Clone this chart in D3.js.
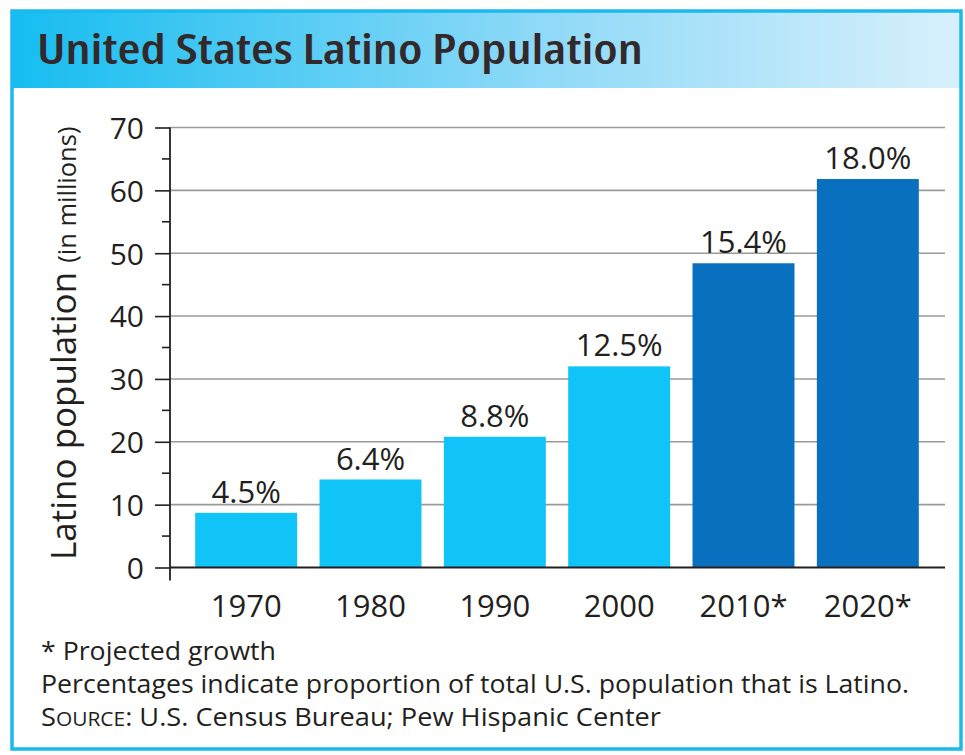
<!DOCTYPE html>
<html>
<head>
<meta charset="utf-8">
<script src="https://cdn.jsdelivr.net/npm/d3@7"></script>
<style>
  body { margin: 0; background: #fff; }
  svg text { font-family: "Open Sans", sans-serif; fill: #231f20; }
</style>
</head>
<body>
<div id="chart"></div>
<script>
// Data.
const years = ["1970", "1980", "1990", "2000", "2010*", "2020*"];
const population = [8.7, 14.0, 20.8, 32.0, 48.4, 61.8];
const shares = ["4.5%", "6.4%", "8.8%", "12.5%", "15.4%", "18.0%"];
const projected = [false, false, false, false, true, true];
const yTicks = [0, 10, 20, 30, 40, 50, 60, 70];
const notes = [
  "* Projected growth",
  "Percentages indicate proportion of total U.S. population that is Latino."
];
const noteWidths = [235, 868];

const width = 965, height = 755;
const svg = d3.select("#chart").append("svg")
  .attr("width", width)
  .attr("height", height);

// Header gradient.
const grad = svg.append("defs").append("linearGradient")
  .attr("id", "head").attr("x1", "0%").attr("x2", "100%");
grad.append("stop").attr("offset", "0%").attr("stop-color", "#16bdf0");
grad.append("stop").attr("offset", "55%").attr("stop-color", "#8dd9f7");
grad.append("stop").attr("offset", "100%").attr("stop-color", "#d8f0fc");

svg.append("rect")
  .attr("x", 12).attr("y", 11).attr("width", 949).attr("height", 77)
  .attr("fill", "url(#head)");

// Outer frame.
svg.append("rect")
  .attr("x", 12).attr("y", 11).attr("width", 949).attr("height", 738)
  .attr("fill", "none").attr("stroke", "#1ab9ee").attr("stroke-width", 3.5);

svg.append("text")
  .attr("x", 37).attr("y", 64)
  .attr("font-size", 42)
  .attr("font-weight", 600)
  .style("font-stretch", "condensed")
  .attr("textLength", 606).attr("lengthAdjust", "spacingAndGlyphs")
  .style("fill", "#33282a")
  .text("United States Latino Population");

// Scales.
const x = d3.scaleBand()
  .domain(years)
  .range([184, 930])
  .paddingInner(0.18)
  .paddingOuter(0.09);

const y = d3.scaleLinear()
  .domain([0, 70])
  .range([567.5, 127.5]);

const axisX = 170, gridEnd = 945;

// Grid lines.
svg.append("g")
  .selectAll("line")
  .data(yTicks.filter(d => d > 0))
  .join("line")
  .attr("x1", axisX).attr("x2", gridEnd)
  .attr("y1", d => y(d)).attr("y2", d => y(d))
  .attr("stroke", "#9a9a9a").attr("stroke-width", 1.6);

// Bars.
svg.append("g")
  .selectAll("rect")
  .data(population)
  .join("rect")
  .attr("x", (d, i) => x(years[i]))
  .attr("width", x.bandwidth())
  .attr("y", d => y(d))
  .attr("height", d => y(0) - y(d))
  .attr("fill", (d, i) => projected[i] ? "#0870bf" : "#10c4f8");

// Percentage labels.
svg.append("g")
  .selectAll("text")
  .data(shares)
  .join("text")
  .attr("x", (d, i) => x(years[i]) + x.bandwidth() / 2)
  .attr("y", (d, i) => y(population[i]) - 10)
  .attr("text-anchor", "middle")
  .attr("font-size", 31)
  .text(d => d);

// Y axis with major and minor ticks.
const yAxis = d3.axisLeft(y)
  .tickValues(yTicks)
  .tickSize(15)
  .tickPadding(11)
  .tickFormat(d3.format("d"));

const gy = svg.append("g")
  .attr("transform", `translate(${axisX},0)`)
  .call(yAxis);
gy.select(".domain").remove();
gy.selectAll(".tick line").attr("stroke", "#231f20").attr("stroke-width", 1.6);
gy.selectAll(".tick text")
  .attr("font-size", 30)
  .attr("font-family", null)
  .attr("dy", "0.36em")
  .style("fill", "#231f20");

gy.append("g")
  .selectAll("line")
  .data(d3.range(5, 70, 10))
  .join("line")
  .attr("x1", -8).attr("x2", 0)
  .attr("y1", d => y(d)).attr("y2", d => y(d))
  .attr("stroke", "#231f20").attr("stroke-width", 1.6);

svg.append("line")
  .attr("x1", axisX).attr("x2", axisX)
  .attr("y1", y(70)).attr("y2", y(0) + 13)
  .attr("stroke", "#231f20").attr("stroke-width", 1.8);

// Baseline.
svg.append("line")
  .attr("x1", axisX).attr("x2", gridEnd)
  .attr("y1", y(0)).attr("y2", y(0))
  .attr("stroke", "#231f20").attr("stroke-width", 1.8);

// X axis labels.
const gx = svg.append("g")
  .attr("transform", `translate(0,${y(0)})`)
  .call(d3.axisBottom(x).tickSize(0).tickPadding(49));
gx.select(".domain").remove();
gx.selectAll(".tick text")
  .attr("font-size", 31)
  .attr("font-family", null)
  .attr("dy", 0)
  .style("fill", "#231f20");

// Y axis title.
const yTitle = svg.append("text")
  .attr("transform", "translate(76,560) rotate(-90)");
yTitle.append("tspan").attr("font-size", 35).text("Latino population ");
yTitle.append("tspan").attr("font-size", 25.5).text("(in millions)");

// Footnotes.
svg.append("g")
  .selectAll("text")
  .data(notes)
  .join("text")
  .attr("x", 41)
  .attr("y", (d, i) => 660 + i * 33)
  .attr("font-size", 26)
  .attr("textLength", (d, i) => noteWidths[i])
  .attr("lengthAdjust", "spacingAndGlyphs")
  .text(d => d);

const source = svg.append("text")
  .attr("x", 41).attr("y", 726)
  .attr("font-size", 26)
  .attr("textLength", 620).attr("lengthAdjust", "spacingAndGlyphs");
source.append("tspan").text("S");
source.append("tspan").attr("font-size", 20).text("OURCE");
source.append("tspan").text(": U.S. Census Bureau; Pew Hispanic Center");
</script>
</body>
</html>
